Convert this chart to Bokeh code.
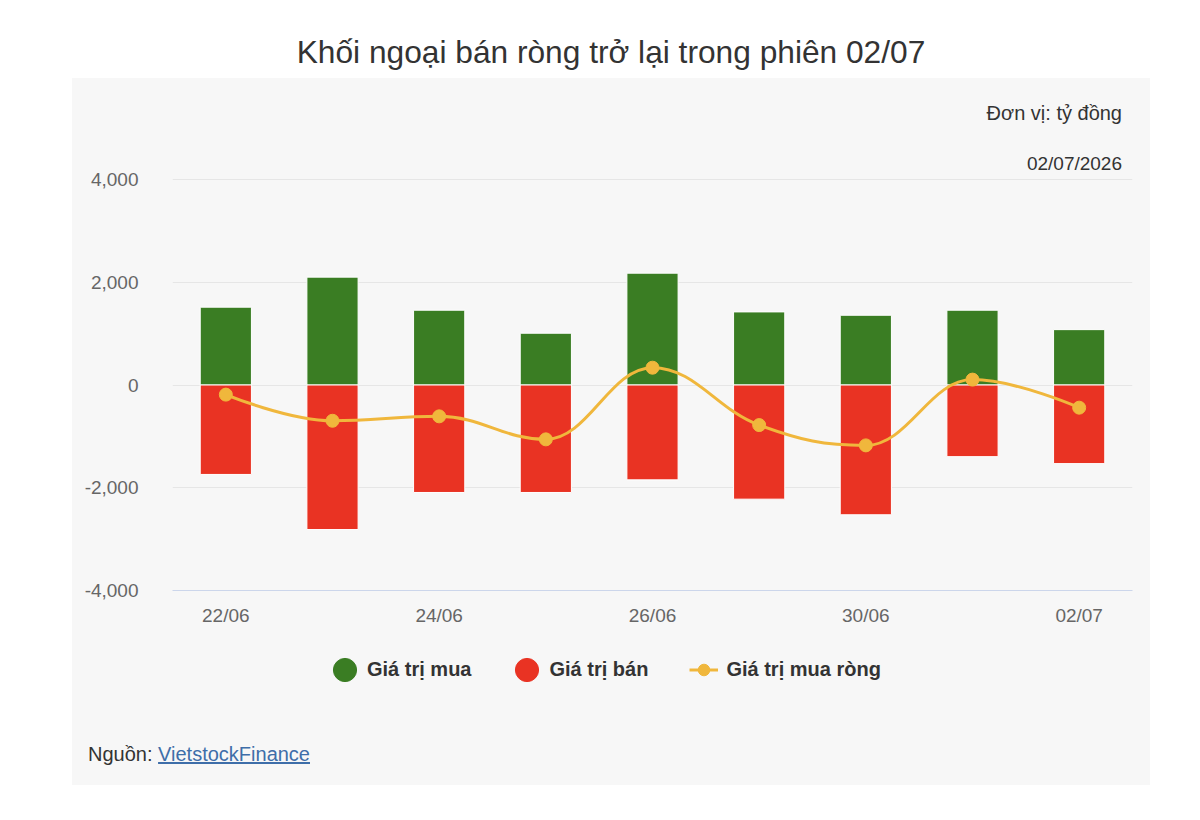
from bokeh.plotting import figure
from bokeh.models import (ColumnDataSource, Range1d, FixedTicker, NumeralTickFormatter,
                          Legend, LegendItem, Div)
from bokeh.layouts import column
from bokeh.embed import file_html
from bokeh.resources import INLINE

# ---- data ----
dates = ["22/06", "23/06", "24/06", "25/06", "26/06", "29/06", "30/06", "01/07", "02/07"]
buy = [1515, 2100, 1456, 1008, 2177, 1423, 1358, 1456, 1078]
sell = [-1741, -2813, -2092, -2092, -1846, -2222, -2526, -1394, -1530]
net = [-187, -696, -610, -1058, 337, -780, -1175, 105, -441]
y_ticks = [-4000, -2000, 0, 2000, 4000]
shown_dates = ["22/06", "24/06", "26/06", "30/06", "02/07"]

title_text = "Khối ngoại bán ròng trở lại trong phiên 02/07"
unit_text = "Đơn vị: tỷ đồng"
date_text = "02/07/2026"
series_names = ["Giá trị mua", "Giá trị bán", "Giá trị mua ròng"]
source_label = "Nguồn:"
source_link = "VietstockFinance"

GREEN = "#3a7d23"
RED = "#e93323"
YELLOW = "#f0b73c"
PANEL = "#f7f7f7"
LINK = "#3e6ea9"
FONT = "Liberation Sans"

idx = list(range(len(dates)))
src = ColumnDataSource(data=dict(x=idx, buy=buy, sell=sell, net=net))

# ---------------- main chart (transparent, sits on the gray panel) ----------------
p = figure(width=1078, height=477, output_backend="svg", toolbar_location=None,
           x_range=Range1d(-0.5, len(dates) - 0.5), y_range=Range1d(-4000, 4020),
           min_border_left=100, min_border_right=18, min_border_top=15, min_border_bottom=50)
p.border_fill_color = None
p.background_fill_color = None
p.outline_line_color = None
p.margin = (-8, 0, 0, 0)

# bars
bw = 0.48
p.vbar(x="x", top="buy", bottom=0, width=bw, source=src, fill_color=GREEN,
       line_color="white", line_width=1)
p.vbar(x="x", top=0, bottom="sell", width=bw, source=src, fill_color=RED,
       line_color="white", line_width=1)

# Spline (Highcharts-style control points) for the net line
def spline_segments(xs, ys, smoothing=1.5):
    denom = smoothing + 1
    n = len(xs)
    left = [None] * n
    right = [None] * n
    for i in range(n):
        px, py = xs[i], ys[i]
        if i == 0 or i == n - 1:
            left[i] = (px, py)
            right[i] = (px, py)
            continue
        lx, ly = xs[i - 1], ys[i - 1]
        nx, ny = xs[i + 1], ys[i + 1]
        lcx = (smoothing * px + lx) / denom
        lcy = (smoothing * py + ly) / denom
        rcx = (smoothing * px + nx) / denom
        rcy = (smoothing * py + ny) / denom
        if rcx != lcx:
            corr = ((rcy - lcy) * (rcx - px)) / (rcx - lcx) + py - rcy
            lcy += corr
            rcy += corr
            if lcy > ly and lcy > py:
                lcy = max(ly, py); rcy = 2 * py - lcy
            elif lcy < ly and lcy < py:
                lcy = min(ly, py); rcy = 2 * py - lcy
            if rcy > ny and rcy > py:
                rcy = max(ny, py); lcy = 2 * py - rcy
            elif rcy < ny and rcy < py:
                rcy = min(ny, py); lcy = 2 * py - rcy
        left[i] = (lcx, lcy)
        right[i] = (rcx, rcy)
    seg = dict(x0=[], y0=[], x1=[], y1=[], cx0=[], cy0=[], cx1=[], cy1=[])
    for i in range(1, n):
        seg["x0"].append(xs[i - 1]); seg["y0"].append(ys[i - 1])
        seg["x1"].append(xs[i]); seg["y1"].append(ys[i])
        seg["cx0"].append(right[i - 1][0]); seg["cy0"].append(right[i - 1][1])
        seg["cx1"].append(left[i][0]); seg["cy1"].append(left[i][1])
    return seg

seg_src = ColumnDataSource(data=spline_segments(idx, net))
p.bezier(x0="x0", y0="y0", x1="x1", y1="y1", cx0="cx0", cy0="cy0",
         cx1="cx1", cy1="cy1", source=seg_src, line_color=YELLOW, line_width=3)
p.scatter(x="x", y="net", source=src, size=13, fill_color=YELLOW, line_color=YELLOW)

# axes
p.xgrid.grid_line_color = None
p.ygrid.grid_line_color = "#e6e6e6"
p.ygrid.ticker = FixedTicker(ticks=y_ticks)

p.yaxis.ticker = FixedTicker(ticks=y_ticks)
p.yaxis.formatter = NumeralTickFormatter(format="0,0")
p.yaxis.axis_line_color = None
p.yaxis.major_tick_line_color = None
p.yaxis.minor_tick_line_color = None
p.yaxis.major_label_standoff = 28
p.yaxis.major_label_text_font = FONT
p.yaxis.major_label_text_font_size = "19px"
p.yaxis.major_label_text_color = "#666666"

tick_pos = [dates.index(d) for d in shown_dates]
p.xaxis.ticker = FixedTicker(ticks=tick_pos)
p.xaxis.major_label_overrides = {i: dates[i] for i in tick_pos}
p.xaxis.axis_line_color = "#ccd6eb"
p.xaxis.axis_line_width = 1
p.xaxis.major_tick_line_color = None
p.xaxis.minor_tick_line_color = None
p.xaxis.major_label_standoff = 8
p.xaxis.major_label_text_font = FONT
p.xaxis.major_label_text_font_size = "19px"
p.xaxis.major_label_text_color = "#666666"

# ---------------- legend strip ----------------
lg = figure(width=1078, height=60, output_backend="svg", toolbar_location=None,
            x_range=Range1d(0, 1), y_range=Range1d(0, 1),
            x_axis_type=None, y_axis_type=None,
            min_border_left=0, min_border_right=0, min_border_top=0, min_border_bottom=0)
lg.border_fill_color = None
lg.background_fill_color = None
lg.outline_line_color = None
lg.xgrid.grid_line_color = None
lg.ygrid.grid_line_color = None

nan_src = ColumnDataSource(data=dict(x=[float("nan")], y=[float("nan")]))
buy_proxy = lg.ellipse(x="x", y="y", width=22, height=22, width_units="screen",
                       height_units="screen", source=nan_src, fill_color=GREEN, line_color=GREEN)
sell_proxy = lg.ellipse(x="x", y="y", width=22, height=22, width_units="screen",
                        height_units="screen", source=nan_src, fill_color=RED, line_color=RED)
net_line_proxy = lg.line(x="x", y="y", source=nan_src, line_color=YELLOW, line_width=3)
net_pts_proxy = lg.scatter(x="x", y="y", source=nan_src, size=13, fill_color=YELLOW,
                           line_color=YELLOW)

legend = Legend(items=[LegendItem(label=series_names[0], renderers=[buy_proxy]),
                       LegendItem(label=series_names[1], renderers=[sell_proxy]),
                       LegendItem(label=series_names[2], renderers=[net_line_proxy, net_pts_proxy])],
                location=(158, 16), orientation="horizontal", glyph_width=29, glyph_height=29,
                label_standoff=8, padding=0, margin=0, spacing=41,
                background_fill_alpha=0, border_line_color=None,
                label_text_font=FONT, label_text_font_size="20px",
                label_text_font_style="bold", label_text_color="#333333")
lg.add_layout(legend)

# ---------------- title, header and source ----------------
title_div = Div(text=(f'<div style="width:1200px;height:78px;box-sizing:border-box;'
                      f'padding-top:34px;padding-left:22px;text-align:center;font-family:\'{FONT}\';'
                      f'font-size:31.7px;line-height:36px;color:#333333;background:#ffffff;">'
                      f'{title_text}</div>'),
                width=1200, height=78)
title_div.margin = (0, 0, 0, 0)

header_div = Div(text=(f'<div style="position:relative;width:1078px;height:93px;'
                       f'font-family:\'{FONT}\';color:#333333;">'
                       f'<div style="position:absolute;right:28px;top:23px;font-size:20px;'
                       f'line-height:24px;white-space:nowrap;">{unit_text}</div>'
                       f'<div style="position:absolute;right:28px;top:75px;font-size:19px;'
                       f'line-height:22px;white-space:nowrap;">{date_text}</div></div>'),
                 width=1078, height=93)
header_div.margin = (0, 0, 0, 0)

source_div = Div(text=(f'<div style="width:1078px;height:85px;box-sizing:border-box;'
                       f'padding:44px 0 0 16px;font-family:\'{FONT}\';'
                       f'font-size:20px;line-height:20px;color:#333333;">{source_label} '
                       f'<span style="color:{LINK};text-decoration:underline;">{source_link}</span></div>'),
                 width=1078, height=85)
source_div.margin = (0, 0, 0, 0)

panel = column(header_div, p, lg, source_div, spacing=0,
               styles={"background-color": PANEL})
panel.margin = (0, 0, 0, 72)

layout = column(title_div, panel, spacing=0)
layout.margin = (0, 0, 0, 0)

open("out.html", "w").write(file_html(layout, INLINE))
